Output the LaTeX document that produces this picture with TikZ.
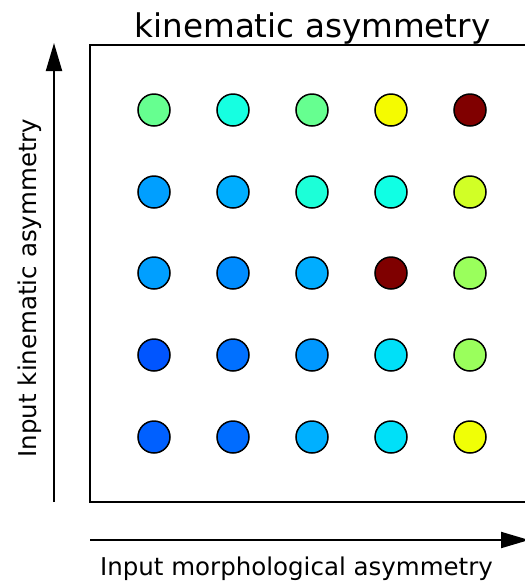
\documentclass[tikz,border=0pt]{standalone}
\usepackage{fontspec}
\setmainfont{DejaVu Sans}
\usetikzlibrary{arrows.meta}
\definecolor{jA}{HTML}{66FF90}
\definecolor{jB}{HTML}{16FFE1}
\definecolor{jC}{HTML}{F5FB00}
\definecolor{jD}{HTML}{800000}
\definecolor{jE}{HTML}{009FFF}
\definecolor{jF}{HTML}{00AEFF}
\definecolor{jG}{HTML}{1CFFD8}
\definecolor{jH}{HTML}{10FFE4}
\definecolor{jI}{HTML}{D1FF26}
\definecolor{jJ}{HTML}{008CFF}
\definecolor{jK}{HTML}{00ADFF}
\definecolor{jL}{HTML}{7F0000}
\definecolor{jM}{HTML}{9AFF5C}
\definecolor{jN}{HTML}{0055FF}
\definecolor{jO}{HTML}{0070FF}
\definecolor{jP}{HTML}{0098FF}
\definecolor{jQ}{HTML}{00E0F8}
\definecolor{jR}{HTML}{0060FF}
\definecolor{jS}{HTML}{006CFF}
\definecolor{jT}{HTML}{00B0FF}
\definecolor{jU}{HTML}{F0FF06}
\begin{document}
\begin{tikzpicture}[x=0.5pt,y=-0.5pt,
    dot/.style={circle,draw,line width=0.75pt,minimum size=16pt,inner sep=0pt},
    axis/.style={line width=1pt,-{Triangle[length=14pt,width=8pt]}}]
            \clip (0,0) rectangle (525,585);

            \node[anchor=base] (T) at (312.5, 37) { \fontsize{16.3}{18}\selectfont kinematic asymmetry };
            \draw[line width=0.65pt] (90, 45) rectangle (540, 502);

            \node[dot,fill=jA] (c11) at (154, 110) {};
            \node[dot,fill=jB] (c12) at (233, 110) {};
            \node[dot,fill=jA] (c13) at (312, 110) {};
            \node[dot,fill=jC] (c14) at (391, 110) {};
            \node[dot,fill=jD] (c15) at (470, 110) {};

            \node[dot,fill=jE] (c21) at (154, 192) {};
            \node[dot,fill=jF] (c22) at (233, 192) {};
            \node[dot,fill=jG] (c23) at (312, 192) {};
            \node[dot,fill=jH] (c24) at (391, 192) {};
            \node[dot,fill=jI] (c25) at (470, 192) {};

            \node[dot,fill=jE] (c31) at (154, 273) {};
            \node[dot,fill=jJ] (c32) at (233, 273) {};
            \node[dot,fill=jK] (c33) at (312, 273) {};
            \node[dot,fill=jL] (c34) at (391, 273) {};
            \node[dot,fill=jM] (c35) at (470, 273) {};

            \node[dot,fill=jN] (c41) at (154, 355) {};
            \node[dot,fill=jO] (c42) at (233, 355) {};
            \node[dot,fill=jP] (c43) at (312, 355) {};
            \node[dot,fill=jQ] (c44) at (391, 355) {};
            \node[dot,fill=jM] (c45) at (470, 355) {};

            \node[dot,fill=jR] (c51) at (154, 437) {};
            \node[dot,fill=jS] (c52) at (233, 437) {};
            \node[dot,fill=jT] (c53) at (312, 437) {};
            \node[dot,fill=jQ] (c54) at (391, 437) {};
            \node[dot,fill=jU] (c55) at (470, 437) {};

            \coordinate (Y0) at (54, 502);
            \coordinate (Y1) at (54, 43);
            \coordinate (X0) at (90, 540);
            \coordinate (X1) at (529, 540);
            \draw[axis] (Y0) to (Y1);
            \draw[axis] (X0) to (X1);

            \node[anchor=base] (XL) at (296.5, 575) { \fontsize{12.25}{14}\selectfont Input morphological asymmetry };
            \node[anchor=base,rotate=90] (YL) at (37, 288) { \fontsize{12.25}{14}\selectfont Input kinematic asymmetry };

        \end{tikzpicture}
\end{document}
